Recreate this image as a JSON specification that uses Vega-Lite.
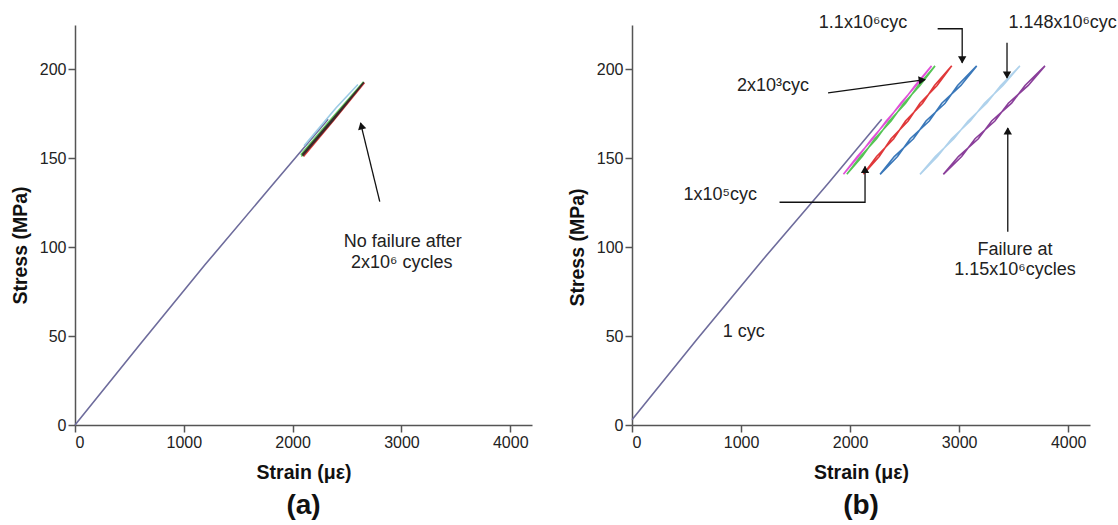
{
  "$schema": "https://vega.github.io/schema/vega-lite/v6.json",
  "padding": {"left": 10, "top": 14, "right": 0, "bottom": 0},
  "background": "white",
  "spacing": 35,
  "config": {
    "view": {"stroke": null},
    "font": "Liberation Sans",
    "axis": {
      "grid": false,
      "domainColor": "#555555",
      "domainWidth": 1.5,
      "tickColor": "#555555",
      "tickWidth": 1.5,
      "tickSize": 7,
      "labelFont": "Liberation Sans",
      "labelFontSize": 16,
      "labelColor": "#222222",
      "titleFont": "Liberation Sans",
      "titleFontSize": 19.5,
      "titleFontWeight": "bold",
      "titleColor": "#111111"
    },
    "title": {"font": "Liberation Sans", "fontSize": 28, "fontWeight": "bold", "color": "#111111"}
  },
  "datasets": {
    "curves": [
      {"panel": "a", "series": "a1", "ord": 1, "strain": 0, "stress": 0},
      {"panel": "a", "series": "a1", "ord": 2, "strain": 600, "stress": 45.5},
      {"panel": "a", "series": "a1", "ord": 3, "strain": 1200, "stress": 90.5},
      {"panel": "a", "series": "a1", "ord": 4, "strain": 1800, "stress": 134},
      {"panel": "a", "series": "a1", "ord": 5, "strain": 2326, "stress": 172},
      {"panel": "a", "series": "aGreen", "ord": 1, "strain": 2080, "stress": 151},
      {"panel": "a", "series": "aGreen", "ord": 2, "strain": 2370, "stress": 172},
      {"panel": "a", "series": "aGreen", "ord": 3, "strain": 2652, "stress": 193},
      {"panel": "a", "series": "aGreen", "ord": 4, "strain": 2360, "stress": 172.6},
      {"panel": "a", "series": "aGreen", "ord": 5, "strain": 2075, "stress": 152},
      {"panel": "a", "series": "aLight", "ord": 1, "strain": 2105, "stress": 157},
      {"panel": "a", "series": "aLight", "ord": 2, "strain": 2400, "stress": 178.5},
      {"panel": "a", "series": "aLight", "ord": 3, "strain": 2600, "stress": 191.5},
      {"panel": "a", "series": "aRed", "ord": 1, "strain": 2100, "stress": 151},
      {"panel": "a", "series": "aRed", "ord": 2, "strain": 2380, "stress": 171.5},
      {"panel": "a", "series": "aRed", "ord": 3, "strain": 2660, "stress": 192.5},
      {"panel": "a", "series": "aDark", "ord": 1, "strain": 2092, "stress": 151.5},
      {"panel": "a", "series": "aDark", "ord": 2, "strain": 2378, "stress": 171.8},
      {"panel": "a", "series": "aDark", "ord": 3, "strain": 2655, "stress": 192.8},
      {"panel": "a", "series": "aDark", "ord": 4, "strain": 2372, "stress": 172.4},
      {"panel": "a", "series": "aDark", "ord": 5, "strain": 2088, "stress": 152},

      {"panel": "b", "series": "b1", "ord": 1, "strain": 0, "stress": 3},
      {"panel": "b", "series": "b1", "ord": 2, "strain": 600, "stress": 48.5},
      {"panel": "b", "series": "b1", "ord": 3, "strain": 1200, "stress": 93},
      {"panel": "b", "series": "b1", "ord": 4, "strain": 1800, "stress": 136},
      {"panel": "b", "series": "b1", "ord": 5, "strain": 2290, "stress": 172},

      {"panel": "b", "series": "bPink", "ord": 1, "strain": 1939, "stress": 141},
      {"panel": "b", "series": "bPink", "ord": 2, "strain": 2076, "stress": 151},
      {"panel": "b", "series": "bPink", "ord": 3, "strain": 2199, "stress": 161},
      {"panel": "b", "series": "bPink", "ord": 4, "strain": 2341, "stress": 171},
      {"panel": "b", "series": "bPink", "ord": 5, "strain": 2464, "stress": 181},
      {"panel": "b", "series": "bPink", "ord": 6, "strain": 2606, "stress": 191},
      {"panel": "b", "series": "bPink", "ord": 7, "strain": 2747, "stress": 202},
      {"panel": "b", "series": "bPink", "ord": 8, "strain": 2596, "stress": 191},
      {"panel": "b", "series": "bPink", "ord": 9, "strain": 2474, "stress": 181},
      {"panel": "b", "series": "bPink", "ord": 10, "strain": 2331, "stress": 171},
      {"panel": "b", "series": "bPink", "ord": 11, "strain": 2209, "stress": 161},
      {"panel": "b", "series": "bPink", "ord": 12, "strain": 2066, "stress": 151},
      {"panel": "b", "series": "bPink", "ord": 13, "strain": 1939, "stress": 141},

      {"panel": "b", "series": "bGreen", "ord": 1, "strain": 1970, "stress": 141},
      {"panel": "b", "series": "bGreen", "ord": 2, "strain": 2111, "stress": 151},
      {"panel": "b", "series": "bGreen", "ord": 3, "strain": 2227, "stress": 161},
      {"panel": "b", "series": "bGreen", "ord": 4, "strain": 2376, "stress": 171},
      {"panel": "b", "series": "bGreen", "ord": 5, "strain": 2493, "stress": 181},
      {"panel": "b", "series": "bGreen", "ord": 6, "strain": 2641, "stress": 191},
      {"panel": "b", "series": "bGreen", "ord": 7, "strain": 2779, "stress": 202},
      {"panel": "b", "series": "bGreen", "ord": 8, "strain": 2625, "stress": 191},
      {"panel": "b", "series": "bGreen", "ord": 9, "strain": 2509, "stress": 181},
      {"panel": "b", "series": "bGreen", "ord": 10, "strain": 2360, "stress": 171},
      {"panel": "b", "series": "bGreen", "ord": 11, "strain": 2243, "stress": 161},
      {"panel": "b", "series": "bGreen", "ord": 12, "strain": 2095, "stress": 151},
      {"panel": "b", "series": "bGreen", "ord": 13, "strain": 1970, "stress": 141},

      {"panel": "b", "series": "bRed", "ord": 1, "strain": 2122, "stress": 141},
      {"panel": "b", "series": "bRed", "ord": 2, "strain": 2267, "stress": 151},
      {"panel": "b", "series": "bRed", "ord": 3, "strain": 2376, "stress": 161},
      {"panel": "b", "series": "bRed", "ord": 4, "strain": 2532, "stress": 171},
      {"panel": "b", "series": "bRed", "ord": 5, "strain": 2641, "stress": 181},
      {"panel": "b", "series": "bRed", "ord": 6, "strain": 2798, "stress": 191},
      {"panel": "b", "series": "bRed", "ord": 7, "strain": 2932, "stress": 202},
      {"panel": "b", "series": "bRed", "ord": 8, "strain": 2774, "stress": 191},
      {"panel": "b", "series": "bRed", "ord": 9, "strain": 2665, "stress": 181},
      {"panel": "b", "series": "bRed", "ord": 10, "strain": 2508, "stress": 171},
      {"panel": "b", "series": "bRed", "ord": 11, "strain": 2400, "stress": 161},
      {"panel": "b", "series": "bRed", "ord": 12, "strain": 2243, "stress": 151},
      {"panel": "b", "series": "bRed", "ord": 13, "strain": 2122, "stress": 141},

      {"panel": "b", "series": "bBlue", "ord": 1, "strain": 2275, "stress": 141},
      {"panel": "b", "series": "bBlue", "ord": 2, "strain": 2435, "stress": 151},
      {"panel": "b", "series": "bBlue", "ord": 3, "strain": 2551, "stress": 161},
      {"panel": "b", "series": "bBlue", "ord": 4, "strain": 2726, "stress": 171},
      {"panel": "b", "series": "bBlue", "ord": 5, "strain": 2841, "stress": 181},
      {"panel": "b", "series": "bBlue", "ord": 6, "strain": 3016, "stress": 191},
      {"panel": "b", "series": "bBlue", "ord": 7, "strain": 3161, "stress": 202},
      {"panel": "b", "series": "bBlue", "ord": 8, "strain": 2986, "stress": 191},
      {"panel": "b", "series": "bBlue", "ord": 9, "strain": 2871, "stress": 181},
      {"panel": "b", "series": "bBlue", "ord": 10, "strain": 2696, "stress": 171},
      {"panel": "b", "series": "bBlue", "ord": 11, "strain": 2581, "stress": 161},
      {"panel": "b", "series": "bBlue", "ord": 12, "strain": 2405, "stress": 151},
      {"panel": "b", "series": "bBlue", "ord": 13, "strain": 2275, "stress": 141},

      {"panel": "b", "series": "bLight", "ord": 1, "strain": 2641, "stress": 141},
      {"panel": "b", "series": "bLight", "ord": 2, "strain": 2801, "stress": 151},
      {"panel": "b", "series": "bLight", "ord": 3, "strain": 2931, "stress": 161},
      {"panel": "b", "series": "bLight", "ord": 4, "strain": 3102, "stress": 171},
      {"panel": "b", "series": "bLight", "ord": 5, "strain": 3232, "stress": 181},
      {"panel": "b", "series": "bLight", "ord": 6, "strain": 3402, "stress": 191},
      {"panel": "b", "series": "bLight", "ord": 7, "strain": 3557, "stress": 202},
      {"panel": "b", "series": "bLight", "ord": 8, "strain": 3382, "stress": 191},
      {"panel": "b", "series": "bLight", "ord": 9, "strain": 3252, "stress": 181},
      {"panel": "b", "series": "bLight", "ord": 10, "strain": 3082, "stress": 171},
      {"panel": "b", "series": "bLight", "ord": 11, "strain": 2951, "stress": 161},
      {"panel": "b", "series": "bLight", "ord": 12, "strain": 2781, "stress": 151},
      {"panel": "b", "series": "bLight", "ord": 13, "strain": 2641, "stress": 141},

      {"panel": "b", "series": "bPurple", "ord": 1, "strain": 2855, "stress": 141},
      {"panel": "b", "series": "bPurple", "ord": 2, "strain": 3023, "stress": 151},
      {"panel": "b", "series": "bPurple", "ord": 3, "strain": 3146, "stress": 161},
      {"panel": "b", "series": "bPurple", "ord": 4, "strain": 3328, "stress": 171},
      {"panel": "b", "series": "bPurple", "ord": 5, "strain": 3451, "stress": 181},
      {"panel": "b", "series": "bPurple", "ord": 6, "strain": 3634, "stress": 191},
      {"panel": "b", "series": "bPurple", "ord": 7, "strain": 3787, "stress": 202},
      {"panel": "b", "series": "bPurple", "ord": 8, "strain": 3604, "stress": 191},
      {"panel": "b", "series": "bPurple", "ord": 9, "strain": 3481, "stress": 181},
      {"panel": "b", "series": "bPurple", "ord": 10, "strain": 3298, "stress": 171},
      {"panel": "b", "series": "bPurple", "ord": 11, "strain": 3176, "stress": 161},
      {"panel": "b", "series": "bPurple", "ord": 12, "strain": 2993, "stress": 151},
      {"panel": "b", "series": "bPurple", "ord": 13, "strain": 2855, "stress": 141}
    ],
    "labels": [
      {"panel": "a", "text": "No failure after", "strain": 3012, "stress": 102.9},
      {"panel": "a", "text": "2x10⁶ cycles", "strain": 3003, "stress": 91},
      {"panel": "b", "text": "1.1x10⁶cyc", "strain": 2119, "stress": 225.9},
      {"panel": "b", "text": "1.148x10⁶cyc", "strain": 3949, "stress": 225.9},
      {"panel": "b", "text": "2x10³cyc", "strain": 1294, "stress": 190.9},
      {"panel": "b", "text": "1x10⁵cyc", "strain": 809, "stress": 129.4},
      {"panel": "b", "text": "Failure at", "strain": 3512, "stress": 98.4},
      {"panel": "b", "text": "1.15x10⁶cycles", "strain": 3512, "stress": 87.1},
      {"panel": "b", "text": "1 cyc", "strain": 1024, "stress": 52.4}
    ],
    "arrows": [
      {"panel": "a", "arrow": "aA", "ord": 1, "strain": 2801, "stress": 125.6},
      {"panel": "a", "arrow": "aA", "ord": 2, "strain": 2624, "stress": 169.9},
      {"panel": "b", "arrow": "b11", "ord": 1, "strain": 2803, "stress": 222.9},
      {"panel": "b", "arrow": "b11", "ord": 2, "strain": 3028, "stress": 222.9},
      {"panel": "b", "arrow": "b11", "ord": 3, "strain": 3028, "stress": 203.7},
      {"panel": "b", "arrow": "b1148", "ord": 1, "strain": 3439, "stress": 215},
      {"panel": "b", "arrow": "b1148", "ord": 2, "strain": 3439, "stress": 195.3},
      {"panel": "b", "arrow": "b2e3", "ord": 1, "strain": 1798, "stress": 186.8},
      {"panel": "b", "arrow": "b2e3", "ord": 2, "strain": 2688, "stress": 194.3},
      {"panel": "b", "arrow": "b1e5", "ord": 1, "strain": 1353, "stress": 125.3},
      {"panel": "b", "arrow": "b1e5", "ord": 2, "strain": 2137, "stress": 125.3},
      {"panel": "b", "arrow": "b1e5", "ord": 3, "strain": 2137, "stress": 145.4},
      {"panel": "b", "arrow": "bFail", "ord": 1, "strain": 3446, "stress": 108.7},
      {"panel": "b", "arrow": "bFail", "ord": 2, "strain": 3446, "stress": 167}
    ],
    "heads": [
      {"panel": "a", "strain": 2634, "stress": 167.7, "angle": 346},
      {"panel": "b", "strain": 3028, "stress": 206, "angle": 180},
      {"panel": "b", "strain": 3439, "stress": 197.5, "angle": 180},
      {"panel": "b", "strain": 2651, "stress": 194, "angle": 82},
      {"panel": "b", "strain": 2137, "stress": 143.1, "angle": 0},
      {"panel": "b", "strain": 3446, "stress": 164.8, "angle": 0}
    ]
  },
  "hconcat": [
    {
      "width": 457,
      "height": 400,
      "title": {"text": "(a)", "orient": "bottom", "offset": 10},
      "layer": [
        {
          "data": {"name": "curves"},
          "transform": [{"filter": "datum.panel === 'a'"}],
          "mark": {"type": "line", "strokeWidth": 1.6},
          "encoding": {
            "x": {"field": "strain", "type": "quantitative", "title": "Strain (με)",
                  "scale": {"domain": [0, 4200], "nice": false, "zero": false},
                  "axis": {"values": [0, 1000, 2000, 3000, 4000], "format": "d", "titleY": 47, "titleBaseline": "middle"}},
            "y": {"field": "stress", "type": "quantitative", "title": "Stress (MPa)",
                  "scale": {"domain": [0, 225], "nice": false},
                  "axis": {"values": [0, 50, 100, 150, 200], "format": "d", "titleX": -55, "titleY": 220, "titleBaseline": "middle"}},
            "color": {"field": "series", "type": "nominal", "legend": null,
                      "scale": {"domain": ["a1", "aGreen", "aLight", "aRed", "aDark", "b1", "bPink", "bGreen", "bRed", "bBlue", "bLight", "bPurple"],
                                "range": ["#6E6C9C", "#5DC95D", "#9CCBE6", "#D93A3A", "#3A2A2A", "#6E6C9C", "#E050D8", "#55C455", "#E0383A", "#3A78BA", "#AFD2EC", "#8A3F9A"]}},
            "order": {"field": "ord", "type": "quantitative"}
          }
        },
        {
          "data": {"name": "arrows"},
          "transform": [{"filter": "datum.panel === 'a'"}],
          "mark": {"type": "line", "color": "#111111", "strokeWidth": 1.3},
          "encoding": {
            "x": {"field": "strain", "type": "quantitative"},
            "y": {"field": "stress", "type": "quantitative"},
            "detail": {"field": "arrow"},
            "order": {"field": "ord", "type": "quantitative"}
          }
        },
        {
          "data": {"name": "heads"},
          "transform": [{"filter": "datum.panel === 'a'"}],
          "mark": {"type": "point", "shape": "triangle", "filled": true, "color": "#111111", "size": 70, "opacity": 1},
          "encoding": {
            "x": {"field": "strain", "type": "quantitative"},
            "y": {"field": "stress", "type": "quantitative"},
            "angle": {"field": "angle", "type": "quantitative", "scale": null}
          }
        },
        {
          "data": {"name": "labels"},
          "transform": [{"filter": "datum.panel === 'a'"}],
          "mark": {"type": "text", "fontSize": 18, "color": "#222222", "align": "center", "baseline": "middle", "font": "Liberation Sans, Noto Sans"},
          "encoding": {
            "x": {"field": "strain", "type": "quantitative"},
            "y": {"field": "stress", "type": "quantitative"},
            "text": {"field": "text"}
          }
        }
      ]
    },
    {
      "width": 458,
      "height": 400,
      "title": {"text": "(b)", "orient": "bottom", "offset": 10},
      "layer": [
        {
          "data": {"name": "curves"},
          "transform": [{"filter": "datum.panel === 'b'"}],
          "mark": {"type": "line", "strokeWidth": 1.6},
          "encoding": {
            "x": {"field": "strain", "type": "quantitative", "title": "Strain (με)",
                  "scale": {"domain": [0, 4200], "nice": false, "zero": false},
                  "axis": {"values": [0, 1000, 2000, 3000, 4000], "format": "d", "titleY": 47, "titleBaseline": "middle"}},
            "y": {"field": "stress", "type": "quantitative", "title": "Stress (MPa)",
                  "scale": {"domain": [0, 225], "nice": false},
                  "axis": {"values": [0, 50, 100, 150, 200], "format": "d", "titleX": -55, "titleY": 222, "titleBaseline": "middle"}},
            "color": {"field": "series", "type": "nominal", "legend": null,
                      "scale": {"domain": ["a1", "aGreen", "aLight", "aRed", "aDark", "b1", "bPink", "bGreen", "bRed", "bBlue", "bLight", "bPurple"],
                                "range": ["#6E6C9C", "#5DC95D", "#9CCBE6", "#D93A3A", "#3A2A2A", "#6E6C9C", "#E050D8", "#55C455", "#E0383A", "#3A78BA", "#AFD2EC", "#8A3F9A"]}},
            "order": {"field": "ord", "type": "quantitative"}
          }
        },
        {
          "data": {"name": "arrows"},
          "transform": [{"filter": "datum.panel === 'b'"}],
          "mark": {"type": "line", "color": "#111111", "strokeWidth": 1.3},
          "encoding": {
            "x": {"field": "strain", "type": "quantitative"},
            "y": {"field": "stress", "type": "quantitative"},
            "detail": {"field": "arrow"},
            "order": {"field": "ord", "type": "quantitative"}
          }
        },
        {
          "data": {"name": "heads"},
          "transform": [{"filter": "datum.panel === 'b'"}],
          "mark": {"type": "point", "shape": "triangle", "filled": true, "color": "#111111", "size": 70, "opacity": 1},
          "encoding": {
            "x": {"field": "strain", "type": "quantitative"},
            "y": {"field": "stress", "type": "quantitative"},
            "angle": {"field": "angle", "type": "quantitative", "scale": null}
          }
        },
        {
          "data": {"name": "labels"},
          "transform": [{"filter": "datum.panel === 'b'"}],
          "mark": {"type": "text", "fontSize": 18, "color": "#222222", "align": "center", "baseline": "middle", "font": "Liberation Sans, Noto Sans"},
          "encoding": {
            "x": {"field": "strain", "type": "quantitative"},
            "y": {"field": "stress", "type": "quantitative"},
            "text": {"field": "text"}
          }
        }
      ]
    }
  ]
}
